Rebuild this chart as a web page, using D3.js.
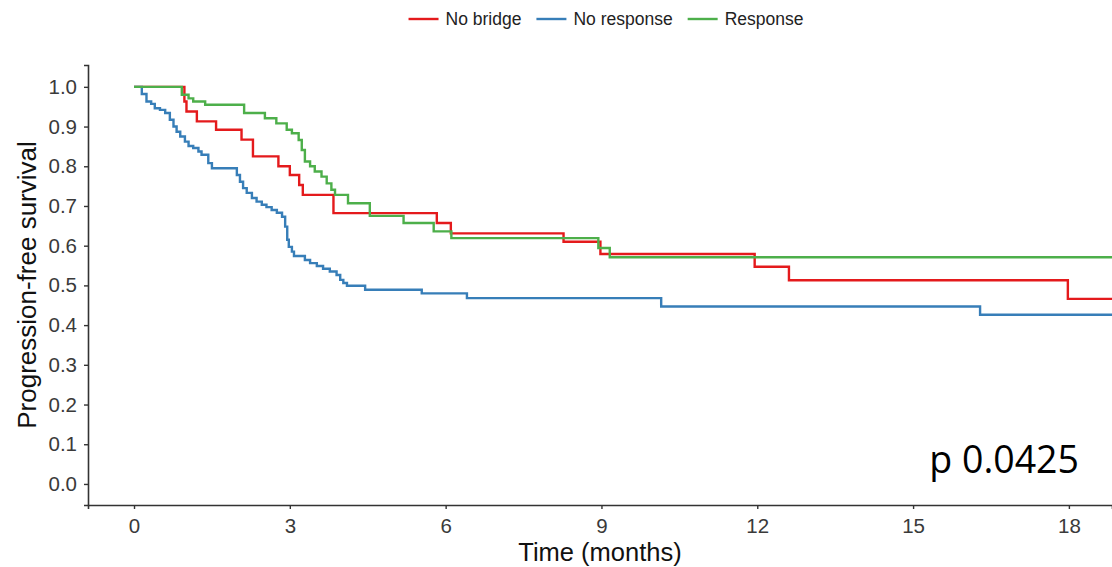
<!DOCTYPE html>
<html>
<head>
<meta charset="utf-8">
<script src="https://cdn.jsdelivr.net/npm/d3@7"></script>
<style>
  body { margin: 0; background: #fff; }
  svg { display: block; font-family: "Liberation Sans", Arial, sans-serif; }
</style>
</head>
<body>
<svg id="chart" width="1112" height="567"></svg>
<script>
// series names and colours, in legend order
var groups = ['No bridge', 'No response', 'Response'];
var colors = ['#E41A1C', '#377EB8', '#4DAF4A'];

// Kaplan-Meier steps: [time in months, survival after the step]
var noBridge = [
  [0, 1], [0.97, 0.963], [1.01, 0.938], [1.21, 0.913], [1.58, 0.892],
  [2.07, 0.867], [2.29, 0.825], [2.78, 0.80], [3.0, 0.778], [3.18, 0.753],
  [3.25, 0.728], [3.84, 0.682], [5.83, 0.657], [6.1, 0.631], [8.27, 0.61],
  [8.98, 0.579], [11.95, 0.547], [12.61, 0.513], [17.98, 0.466], [19.5, 0.466]
];
var noResponse = [
  [0, 1], [0.15, 0.982], [0.24, 0.963], [0.33, 0.957], [0.40, 0.946],
  [0.50, 0.942], [0.60, 0.934], [0.69, 0.917], [0.76, 0.900], [0.82, 0.887],
  [0.89, 0.875], [0.98, 0.862], [1.05, 0.851], [1.14, 0.846], [1.24, 0.837],
  [1.30, 0.829], [1.43, 0.808], [1.50, 0.795], [1.98, 0.778], [2.04, 0.761],
  [2.10, 0.745], [2.17, 0.733], [2.27, 0.720], [2.36, 0.711], [2.46, 0.703],
  [2.55, 0.697], [2.65, 0.690], [2.75, 0.683], [2.85, 0.673], [2.91, 0.648],
  [2.95, 0.615], [2.98, 0.597], [3.04, 0.585], [3.08, 0.574], [3.29, 0.564],
  [3.39, 0.556], [3.52, 0.549], [3.64, 0.542], [3.77, 0.535], [3.90, 0.526],
  [3.97, 0.514], [4.03, 0.506], [4.10, 0.499], [4.45, 0.489], [5.54, 0.480],
  [6.41, 0.468], [10.15, 0.447], [16.29, 0.426], [19.5, 0.426]
];
var response = [
  [0, 1], [0.92, 0.98], [1.05, 0.971], [1.14, 0.963], [1.37, 0.955],
  [2.12, 0.934], [2.52, 0.921], [2.74, 0.908], [2.94, 0.892], [3.04, 0.883],
  [3.17, 0.866], [3.23, 0.841], [3.29, 0.812], [3.39, 0.80], [3.48, 0.787],
  [3.61, 0.774], [3.71, 0.757], [3.80, 0.741], [3.87, 0.728], [4.12, 0.707],
  [4.54, 0.675], [5.19, 0.657], [5.77, 0.636], [6.11, 0.619], [8.94, 0.594],
  [9.16, 0.571], [19.5, 0.571]
];
var series = [noBridge, noResponse, response];

var xTicks = [0, 3, 6, 9, 12, 15, 18];
var yTicks = [0, 0.1, 0.2, 0.3, 0.4, 0.5, 0.6, 0.7, 0.8, 0.9, 1.0];
var pLabel = 'p 0.0425';

(function() {
  var svg = d3.select('#chart');
  var pLeft = 88, pRight = 1112, pTop = 65, pBottom = 505;

  var x = d3.scaleLinear().domain([-0.886, 18.83]).range([pLeft, pRight]);
  var y = d3.scaleLinear().domain([-0.053, 1.055]).range([pBottom, pTop]);

  svg.append('defs').append('clipPath').attr('id', 'plot-clip')
    .append('rect')
    .attr('x', pLeft).attr('y', pTop - 5)
    .attr('width', pRight - pLeft).attr('height', pBottom - pTop + 5);

  // curves
  var line = d3.line()
    .x(function(d) { return x(d[0]); })
    .y(function(d) { return y(d[1]); })
    .curve(d3.curveStepAfter);

  svg.append('g').attr('clip-path', 'url(#plot-clip)')
    .selectAll('path.km')
    .data(series)
    .enter()
    .append('path')
    .classed('km', true)
    .attr('d', line)
    .attr('fill', 'none')
    .attr('stroke', function(d, i) { return colors[i]; })
    .attr('stroke-width', 2.4);

  // axes
  var xAxis = svg.append('g')
    .attr('transform', 'translate(0,' + pBottom + ')')
    .call(d3.axisBottom(x).tickValues(xTicks).tickSize(4).tickPadding(9));
  var yAxis = svg.append('g')
    .attr('transform', 'translate(' + pLeft + ',0)')
    .call(d3.axisLeft(y).tickValues(yTicks).tickSize(4).tickPadding(7)
      .tickFormat(d3.format('.1f')));

  [xAxis, yAxis].forEach(function(a) {
    a.select('.domain').attr('stroke', '#333').attr('stroke-width', 1.6);
    a.selectAll('.tick line').attr('stroke', '#333').attr('stroke-width', 1.4);
    a.selectAll('.tick text')
      .attr('fill', '#3a3a3a')
      .style('font-size', '20.5px')
      .style('font-family', '"Liberation Sans", Arial, sans-serif');
  });

  // axis titles
  svg.append('text')
    .attr('x', (pLeft + pRight) / 2)
    .attr('y', 561)
    .attr('text-anchor', 'middle')
    .style('font-size', '25.5px')
    .attr('fill', '#111')
    .text('Time (months)');

  svg.append('text')
    .attr('transform', 'translate(36,' + ((pTop + pBottom) / 2) + ') rotate(-90)')
    .attr('text-anchor', 'middle')
    .style('font-size', '26px')
    .attr('fill', '#111')
    .text('Progression-free survival');

  // p value
  svg.append('text')
    .attr('x', 1079)
    .attr('y', 473)
    .attr('text-anchor', 'end')
    .style('font-family', '"Open Sans", sans-serif')
    .style('font-size', '37.5px')
    .attr('fill', '#000')
    .text(pLabel);

  // legend, centred above the plot
  var keyLen = 30, keyGap = 7, itemGap = 15, cx = 606, ly = 19;
  var items = svg.append('g').selectAll('g.item')
    .data(groups)
    .enter()
    .append('g')
    .classed('item', true);
  items.append('line')
    .attr('x1', 0).attr('x2', keyLen)
    .attr('y1', 0).attr('y2', 0)
    .attr('stroke', function(d, i) { return colors[i]; })
    .attr('stroke-width', 2.4);
  items.append('text')
    .attr('x', keyLen + keyGap)
    .attr('dy', '0.35em')
    .style('font-size', '17.5px')
    .attr('fill', '#222')
    .text(function(d) { return d; });

  var offset = 0, offsets = [];
  items.each(function() {
    offsets.push(offset);
    offset += keyLen + keyGap + d3.select(this).select('text').node().getComputedTextLength() + itemGap;
  });
  var total = offset - itemGap;
  items.attr('transform', function(d, i) {
    return 'translate(' + (cx - total / 2 + offsets[i]) + ',' + ly + ')';
  });
})();
</script>
</body>
</html>
